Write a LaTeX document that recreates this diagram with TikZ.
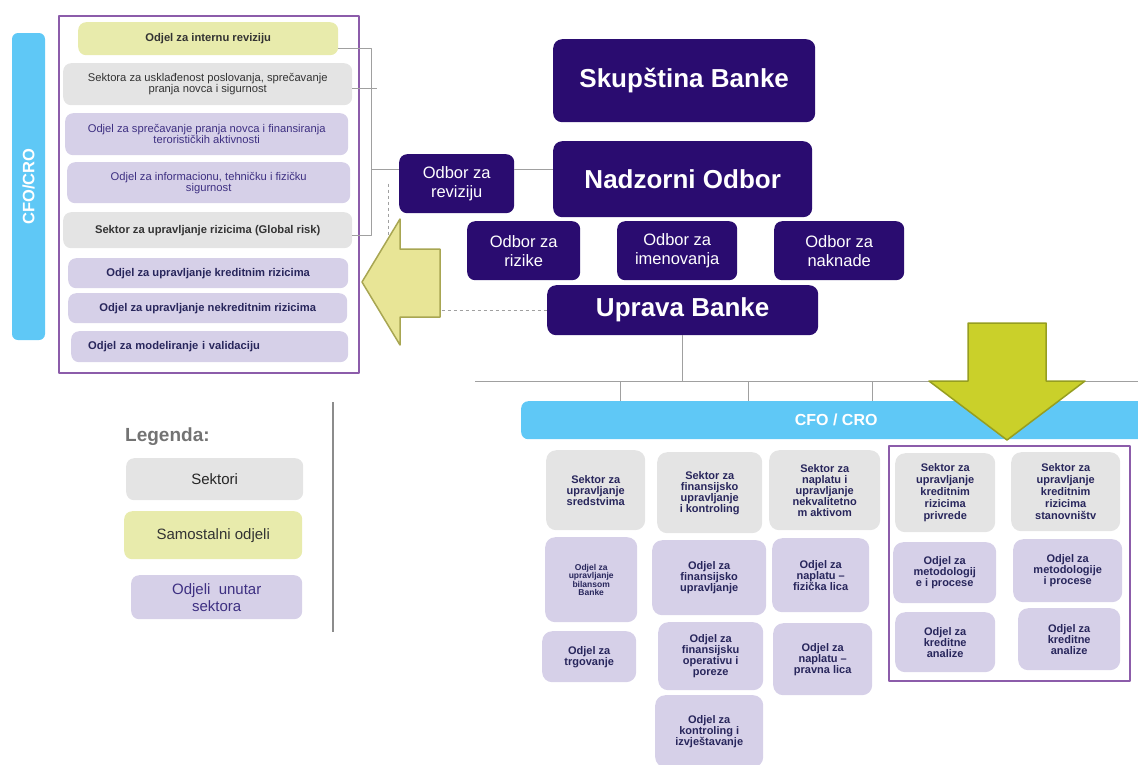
\documentclass[tikz,border=0pt]{standalone}
\usepackage{fontspec}
\setmainfont{Liberation Sans}
\definecolor{navy}{RGB}{42,12,112}
\definecolor{sgrey}{RGB}{228,228,228}
\definecolor{lav}{RGB}{214,208,232}
\definecolor{yel}{RGB}{232,235,172}
\definecolor{cyanbar}{RGB}{95,200,246}
\definecolor{frm}{RGB}{140,92,170}
\definecolor{txtnavy}{RGB}{40,38,92}
\definecolor{txtpurp}{RGB}{62,48,130}
\definecolor{larrow}{RGB}{232,229,150}
\definecolor{larrowd}{RGB}{168,166,82}
\definecolor{darrow}{RGB}{202,208,42}
\definecolor{darrowd}{RGB}{150,158,32}
\definecolor{lgrey}{RGB}{160,160,160}
\begin{document}
\begin{tikzpicture}[x=1pt,y=-1pt, line join=round,
	sz/.style 2 args={minimum width=#1pt,minimum height=#2pt},
	base/.style={anchor=north west, inner sep=0pt, align=center, rounded corners=6pt},
	uprava/.style={base, fill=navy, text=white, font=\bfseries\fontsize{26}{30}\selectfont, rounded corners=9pt},
	odbor/.style={base, fill=navy, text=white, font=\fontsize{16.5}{19}\selectfont, rounded corners=8pt},
	sekt/.style={base, fill=sgrey, text=txtnavy, font=\bfseries\fontsize{11}{11}\selectfont, rounded corners=10pt},
	odj/.style={base, fill=lav, text=txtnavy, font=\bfseries\fontsize{11}{11}\selectfont, rounded corners=10pt},
	lrow/.style={base, rounded corners=8pt, font=\fontsize{11.2}{11}\selectfont},
	lbold/.style={lrow, font=\bfseries\fontsize{11.2}{11}\selectfont},
	okvir/.style={base, sharp corners, draw=frm, line width=1.6pt},
	legbox/.style={base, rounded corners=8pt, font=\fontsize{15}{17}\selectfont},
	veza/.style={draw=lgrey, line width=0.6pt}]
\useasboundingbox (0,0) rectangle (1138,764);
% lijevi blok
\node[base, fill=cyanbar, text=white, font=\bfseries\fontsize{16.5}{18}\selectfont, sz={307}{33}, rotate=90, anchor=center, rounded corners=6pt] (cfol) at (28.5,186.5) {CFO/CRO};
\node[lbold, fill=yel, text=black!80, sz={260}{33}] (rev) at (78,22) {Odjel za internu reviziju};
\node[lrow, fill=sgrey, text=black!80, sz={289}{42}] (r2) at (63,63) {Sektora za usklađenost poslovanja, sprečavanje\\pranja novca i sigurnost};
\node[lrow, fill=lav, text=txtpurp, sz={283}{42}] (r3) at (65,113) {Odjel za sprečavanje pranja novca i finansiranja\\terorističkih aktivnosti};
\node[lrow, fill=lav, text=txtpurp, sz={283}{41}] (r4) at (67,162) {Odjel za informacionu, tehničku i fizičku\\sigurnost};
\node[lbold, fill=sgrey, text=black!80, sz={289}{36}] (r5) at (63,212) {Sektor za upravljanje rizicima (Global risk)};
\node[lbold, fill=lav, text=txtnavy, sz={280}{30}] (r6) at (68,258) {Odjel za upravljanje kreditnim rizicima};
\node[lbold, fill=lav, text=txtnavy, sz={279}{30}] (r7) at (68,293) {Odjel za upravljanje nekreditnim rizicima};
\node[lbold, fill=lav, text=txtnavy, sz={277}{31}, align=left, text width=243pt, inner xsep=17pt] (r8) at (71,331) {Odjel za modeliranje i validaciju};
\node[okvir, sz={300}{357}] (lfrm) at (58,15) {};
% uprava i odbori
\node[uprava, sz={262}{83}] (skup) at (553,39) {Skupština Banke};
\node[uprava, sz={259}{76}] (nadz) at (553,141) {Nadzorni Odbor};
\node[odbor, sz={115}{59}] (orev) at (399,154) {Odbor za\\reviziju};
\node[odbor, sz={113}{59}] (oriz) at (467,221) {Odbor za\\rizike};
\node[odbor, sz={120}{59}] (oime) at (617,221) {Odbor za\\imenovanja};
\node[odbor, sz={130}{59}] (onak) at (774,221) {Odbor za\\naknade};
\node[uprava, sz={271}{50}] (upr) at (547,285) {Uprava Banke};
\draw[veza] ([yshift=-10pt]rev.east) -| ([xshift=19pt,yshift=-5pt]r5.east) -- ([yshift=-5pt]r5.east);
\draw[veza] ([yshift=-4pt]r2.east) -- ++(25,0);
\coordinate (brk) at (371,169);
\draw[veza] (brk) -- (brk -| orev.west);
\draw[veza] (brk -| orev.east) -- (brk -| nadz.west);
\draw[veza, dashed] ([xshift=-11pt]orev.west) |- (upr.west);
\draw[fill=larrow, draw=larrowd, line width=1.5pt] (362,282) -- (400,219) -- (400,249) -- (440,249) -- (440,317) -- (400,317) -- (400,345) -- cycle;
% CFO / CRO
\node[base, fill=cyanbar, text=white, font=\bfseries\fontsize{16}{18}\selectfont, sz={630}{38}, rounded corners=7pt] (cfob) at (521,401) {CFO / CRO};
\coordinate (busl) at (475,381);
\coordinate (busr) at (1138,381);
\draw[veza] (busl) -- (busr);
\draw[veza] (upr.south) -- (upr.south |- busl);
\foreach \x in {620,748,872} \draw[veza] (busl -| \x,0) -- (cfob.north -| \x,0);
\draw[fill=darrow, draw=darrowd, line width=1.5pt] (968,323) -- (1046,323) -- (1046,381) -- (1085,381) -- (1007,440) -- (929,381) -- (968,381) -- cycle;
\node[sekt, sz={99}{80}] (s1) at (546,450) {Sektor za\\upravljanje\\sredstvima};
\node[odj, sz={92}{85}, font=\bfseries\fontsize{8.5}{7.5}\selectfont] (o11) at (545,537) {Odjel za\\upravljanje\\bilansom\\Banke};
\node[odj, sz={94}{51}] (o12) at (542,631) {Odjel za\\trgovanje};
\node[sekt, sz={105}{81}] (s2) at (657,452) {Sektor za\\finansijsko\\upravljanje\\i kontroling};
\node[odj, sz={114}{75}] (o21) at (652,540) {Odjel za\\finansijsko\\upravljanje};
\node[odj, sz={105}{68}] (o22) at (658,622) {Odjel za\\finansijsku\\operativu i\\poreze};
\node[odj, sz={108}{72}] (o23) at (655,695) {Odjel za\\kontroling i\\izvještavanje};
\node[sekt, sz={111}{80}] (s3) at (769,450) {Sektor za\\naplatu i\\upravljanje\\nekvalitetno\\m aktivom};
\node[odj, sz={97}{74}] (o31) at (772,538) {Odjel za\\naplatu –\\fizička lica};
\node[odj, sz={99}{72}] (o32) at (773,623) {Odjel za\\naplatu –\\pravna lica};
\node[sekt, sz={100}{79}, font=\bfseries\fontsize{11}{12}\selectfont] (s4) at (895,453) {Sektor za\\upravljanje\\kreditnim\\rizicima\\privrede};
\node[sekt, sz={109}{79}, font=\bfseries\fontsize{11}{12}\selectfont] (s5) at (1011,452) {Sektor za\\upravljanje\\kreditnim\\rizicima\\stanovništv};
\node[odj, sz={103}{61}] (o41) at (893,542) {Odjel za\\metodologij\\e i procese};
\node[odj, sz={109}{63}] (o51) at (1013,539) {Odjel za\\metodologije\\i procese};
\node[odj, sz={100}{60}] (o42) at (895,612) {Odjel za\\kreditne\\analize};
\node[odj, sz={102}{62}] (o52) at (1018,608) {Odjel za\\kreditne\\analize};
\node[okvir, sz={241}{235}] (rfrm) at (888,445) {};
% legenda
\node[anchor=base west, inner sep=0pt, text=black!55, font=\bfseries\fontsize{19}{21}\selectfont] (leg) at (125,441) {Legenda:};
\node[legbox, fill=sgrey, text=black!85, sz={177}{42}] (lg1) at (126,458) {Sektori};
\node[legbox, fill=yel, text=black!80, sz={178}{48}] (lg2) at (124,511) {Samostalni odjeli};
\node[legbox, fill=lav, text=txtpurp, sz={171}{44}] (lg3) at (131,575) {Odjeli\ \ unutar\\sektora};
\draw[line width=1.2pt, black!45] (333,402) -- (333,632);
\end{tikzpicture}
\end{document}
